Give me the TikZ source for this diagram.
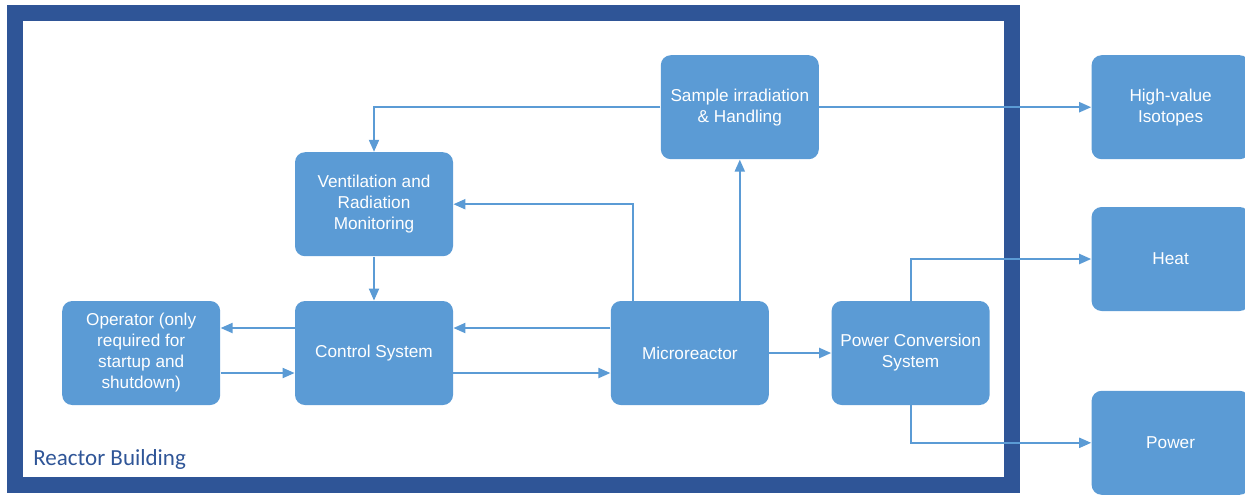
\documentclass[tikz,border=0pt]{standalone}
\usepackage{fontspec}
\setmainfont{Liberation Sans}
\newfontfamily\labelfont{Carlito}
\usetikzlibrary{
  arrows.meta,
  positioning
}
\definecolor{boxblue}{HTML}{5B9BD5}
\definecolor{frameblue}{HTML}{2F5597}
\tikzset{
  >={Triangle[length=6pt,width=5pt]},
  block/.style = {fill=boxblue, rounded corners=5pt, minimum width=79pt,
    minimum height=52pt, inner sep=0pt, align=center, text=white,
    font=\fontsize{8.6pt}{10.5pt}\selectfont},
  link/.style = {->, draw=boxblue, line width=1pt},
}
\begin{document}
\begin{tikzpicture}[x=0.5pt, y=-0.5pt]
  \useasboundingbox (0,0) rectangle (1245,495);
  \draw[line width=8pt, draw=frameblue] (14.5,12.5) rectangle (1012,484.5);
  \node[anchor=base west, inner sep=0pt, text=frameblue,
    font=\labelfont\fontsize{11.5pt}{13pt}\selectfont] (building) at (33,465) {Reactor Building};

  \node[block] (control) at (374,353) {Control System};
  \node[block, left=37pt of control] (operator) {Operator (only\\required for\\startup and\\shutdown)};
  \node[block, above=22pt of control] (vent) {Ventilation and\\Radiation\\Monitoring};
  \node[block, right=78.5pt of control] (micro) {Microreactor};
  \node[block, right=31pt of micro] (pcs) {Power Conversion\\System};
  \node[block, above=70.5pt of micro, xshift=25pt] (sample) {Sample irradiation\\\& Handling};
  \node[block, right=136pt of sample] (iso) {High-value\\Isotopes};
  \node[block, below=23.5pt of iso] (heat) {Heat};
  \node[block, below=39.5pt of heat] (power) {Power};

  \draw[link] (sample) -| (vent);
  \draw[link] (sample) -- (iso);
  \draw[link] (micro.north -| sample.south) -- (sample.south);
  \draw[link] ([xshift=-28.5pt]micro.north) |- (vent);
  \draw[link] (vent) -- (control);
  \draw[link] ([yshift=12.5pt]control.west) -- ([yshift=12.5pt]operator.east);
  \draw[link] ([yshift=-10pt]operator.east) -- ([yshift=-10pt]control.west);
  \draw[link] ([yshift=12.5pt]micro.west) -- ([yshift=12.5pt]control.east);
  \draw[link] ([yshift=-10pt]control.east) -- ([yshift=-10pt]micro.west);
  \draw[link] (micro) -- (pcs);
  \draw[link] (pcs) |- (heat);
  \draw[link] (pcs) |- (power);
\end{tikzpicture}
\end{document}
